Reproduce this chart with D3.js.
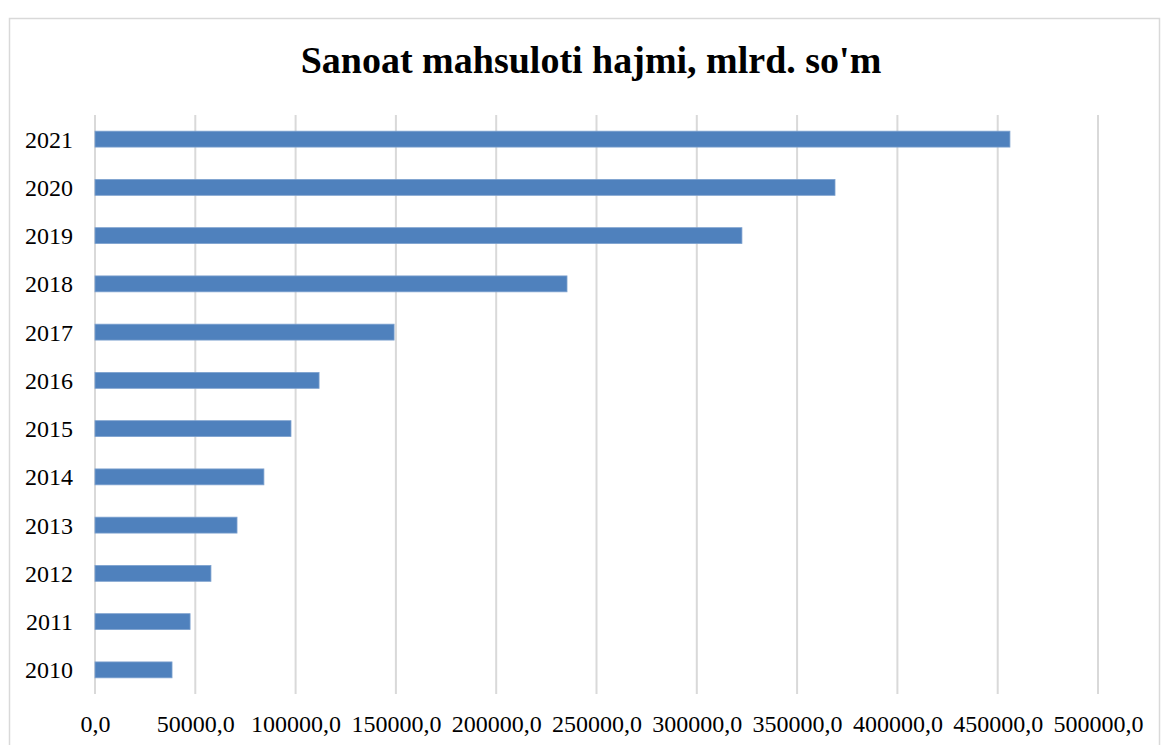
<!DOCTYPE html>
<html>
<head>
<meta charset="utf-8">
<script src="https://cdn.jsdelivr.net/npm/d3@7"></script>
<style>
  body { margin: 0; background: #fff; }
  text { font-family: "Liberation Serif", "Times New Roman", serif; fill: #000; }
</style>
</head>
<body>
<div id="chartContainer"></div>
<script>
var years = ["2010", "2011", "2012", "2013", "2014", "2015", "2016", "2017", "2018", "2019", "2020", "2021"];
var values = [38400, 47400, 57800, 70800, 84200, 97700, 111700, 149100, 235300, 322500, 368900, 456100];
var xTicks = [0, 50000, 100000, 150000, 200000, 250000, 300000, 350000, 400000, 450000, 500000];
var title = "Sanoat mahsuloti hajmi, mlrd. so'm";

var WIDTH = 1161, HEIGHT = 745,
  MARGINS = { top: 115, right: 63, bottom: 51, left: 95 };

var svg = d3.select("#chartContainer").append("svg")
  .attr("width", WIDTH)
  .attr("height", HEIGHT);

// chart frame
svg.append("rect")
  .attr("x", 9.5).attr("y", 18.5)
  .attr("width", 1150).attr("height", 740)
  .attr("fill", "none")
  .attr("stroke", "#d9d9d9")
  .attr("stroke-width", 1.5);

var xRange = d3.scaleLinear()
  .domain([0, 500000])
  .range([MARGINS.left, WIDTH - MARGINS.right]);

var yRange = d3.scaleBand()
  .domain(years.slice().reverse())
  .range([MARGINS.top, HEIGHT - MARGINS.bottom])
  .paddingInner(0.67)
  .paddingOuter(0.335);

// gridlines
svg.append("g")
  .selectAll("line")
  .data(xTicks)
  .enter().append("line")
  .attr("x1", function (d) { return xRange(d); })
  .attr("x2", function (d) { return xRange(d); })
  .attr("y1", MARGINS.top)
  .attr("y2", HEIGHT - MARGINS.bottom)
  .attr("stroke", "#d9d9d9")
  .attr("stroke-width", 2);

// bars
svg.append("g")
  .selectAll("rect")
  .data(years)
  .enter().append("rect")
  .attr("x", xRange(0))
  .attr("y", function (d) { return yRange(d); })
  .attr("width", function (d, i) { return xRange(values[i]) - xRange(0); })
  .attr("height", yRange.bandwidth())
  .attr("fill", "#4f81bd")
  .attr("stroke", "#7ea2cf")
  .attr("stroke-width", 0.8);

// x axis labels
var xAxis = d3.axisBottom(xRange)
  .tickValues(xTicks)
  .tickSize(0)
  .tickPadding(0)
  .tickFormat(function (d) { return d + ",0"; });

svg.append("g")
  .attr("transform", "translate(0," + (HEIGHT - MARGINS.bottom) + ")")
  .call(xAxis)
  .call(function (g) { g.select(".domain").remove(); })
  .selectAll("text")
  .attr("y", 38)
  .attr("dy", 0)
  .style("font-size", "24px")
  .style("font-family", "Liberation Serif, serif");

// y axis labels
var yAxis = d3.axisLeft(yRange)
  .tickSize(0)
  .tickPadding(22);

svg.append("g")
  .attr("transform", "translate(" + MARGINS.left + ",0)")
  .call(yAxis)
  .call(function (g) { g.select(".domain").remove(); })
  .selectAll("text")
  .attr("dy", "0.35em")
  .style("font-size", "24px")
  .style("font-family", "Liberation Serif, serif");

svg.append("text")
  .attr("x", 591)
  .attr("y", 73)
  .attr("text-anchor", "middle")
  .style("font-size", "38px")
  .style("font-weight", "bold")
  .text(title);
</script>
</body>
</html>
